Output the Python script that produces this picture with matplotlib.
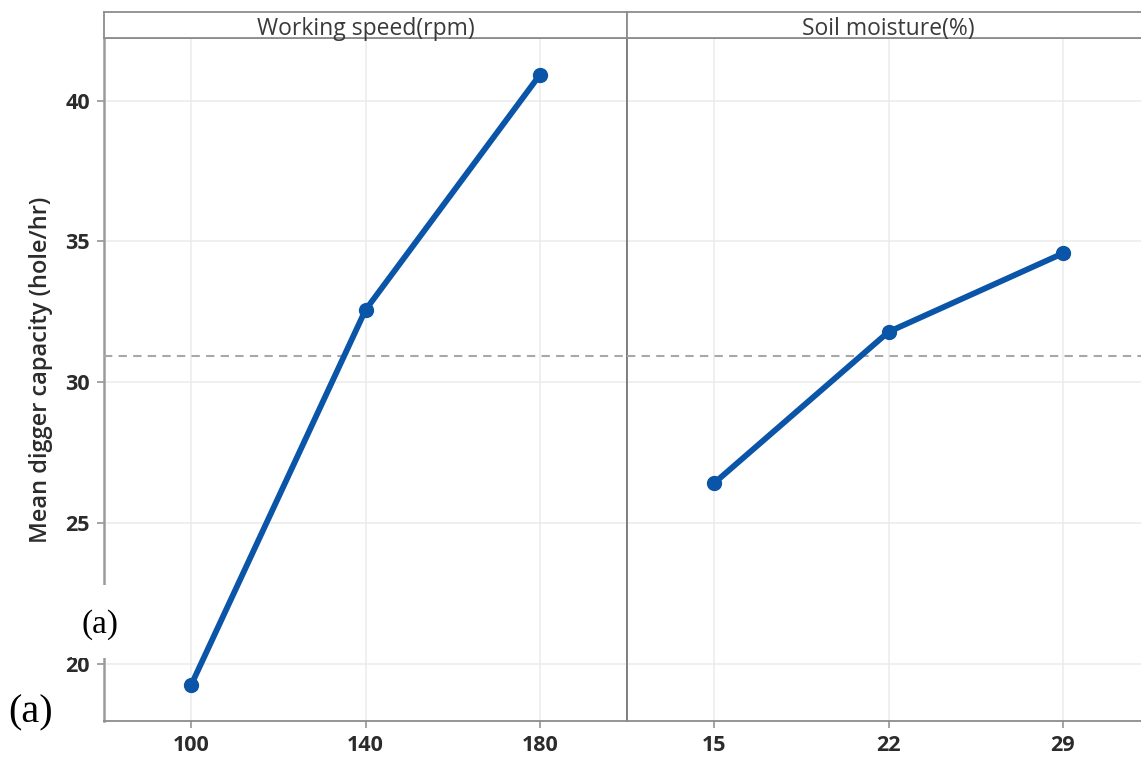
import matplotlib.pyplot as plt
import numpy as np
from matplotlib.patches import Rectangle

# main effects data
speed_levels = ['100', '140', '180']
speed_means = [19.24, 32.56, 40.91]
moisture_levels = ['15', '22', '29']
moisture_means = [26.41, 31.78, 34.57]

panel_titles = ['Working speed(rpm)', 'Soil moisture(%)']
y_ticks = [20, 25, 30, 35, 40]
y_label = 'Mean digger capacity (hole/hr)'

LINE_COLOR = '#0a55a8'
SPINE_COLOR = '#8c8c8c'
GRID_COLOR = '#ebebeb'
TEXT_COLOR = '#2b2b2b'

plt.rcParams['font.family'] = ['Open Sans', 'DejaVu Sans']

W, H = 1141, 757
fig = plt.figure(figsize=(W / 100, H / 100), dpi=100)


def fx(px):
    return px / W


def fy(py):
    return 1 - py / H


left, mid, right = 104, 627, 1150
bottom, top, strip_top = 721, 38, 12

grand_mean = np.mean(speed_means + moisture_means)

panels = [(left, mid, speed_levels, speed_means),
          (mid, right, moisture_levels, moisture_means)]

for i, (x0, x1, levels, means) in enumerate(panels):
    ax = fig.add_axes([fx(x0), fy(bottom), fx(x1) - fx(x0), fy(top) - fy(bottom)])
    xs = np.arange(len(levels))
    ax.plot(xs, means, color=LINE_COLOR, lw=4.2, marker='o', ms=10,
            solid_capstyle='round', zorder=5)
    ax.axhline(grand_mean, color='#a8a8a8', lw=1.5, ls=(0, (4, 3)), zorder=3)
    ax.set_xlim(-0.5, len(levels) - 0.5)
    ax.set_ylim(17.96, 42.22)
    ax.set_xticks(xs)
    ax.set_xticklabels(levels)
    ax.set_yticks(y_ticks)
    ax.grid(True, color=GRID_COLOR, lw=1.1)
    ax.set_axisbelow(True)
    for s in ax.spines.values():
        s.set_color(SPINE_COLOR)
        s.set_linewidth(1.3)
    ax.tick_params(axis='both', colors=SPINE_COLOR, length=5, width=1.1,
                   labelcolor=TEXT_COLOR, labelsize=15.5, pad=5)
    for lab in ax.get_xticklabels() + ax.get_yticklabels():
        lab.set_fontweight('bold')
    if i == 0:
        ax.set_ylabel(y_label, fontsize=17, color=TEXT_COLOR,
                      fontweight='semibold')
        ax.yaxis.set_label_coords(-0.097, 0.514)
        ax.spines['left'].set_color('#9a9a9a')
        ax.spines['left'].set_linewidth(1.8)
    else:
        ax.tick_params(axis='y', length=0, labelleft=False)
        ax.spines['left'].set_color('#7a7a7a')

    # facet strip with the factor name
    sx = fig.add_axes([fx(x0), fy(top), fx(x1) - fx(x0), fy(strip_top) - fy(top)])
    sx.set_xticks([])
    sx.set_yticks([])
    for s in sx.spines.values():
        s.set_color(SPINE_COLOR)
        s.set_linewidth(1.3)
    sx.text(0.5, 0.35, panel_titles[i], transform=sx.transAxes, ha='center',
            va='center', fontsize=16.5, color='#3a3a3a', clip_on=False)

# white patch with the "(a)" label over the left axis
fig.add_artist(Rectangle((fx(72), fy(658)), fx(126) - fx(72), fy(585) - fy(658),
                         transform=fig.transFigure, facecolor='white',
                         edgecolor='none', zorder=10))
fig.text(fx(100), fy(625), '(a)', ha='center', va='center', fontsize=24,
         family='Liberation Serif', color='black', zorder=11)
fig.text(fx(31), fy(713), '(a)', ha='center', va='center', fontsize=29,
         family='Liberation Serif', color='black', zorder=11)

fig.savefig('out.png', dpi=100)
